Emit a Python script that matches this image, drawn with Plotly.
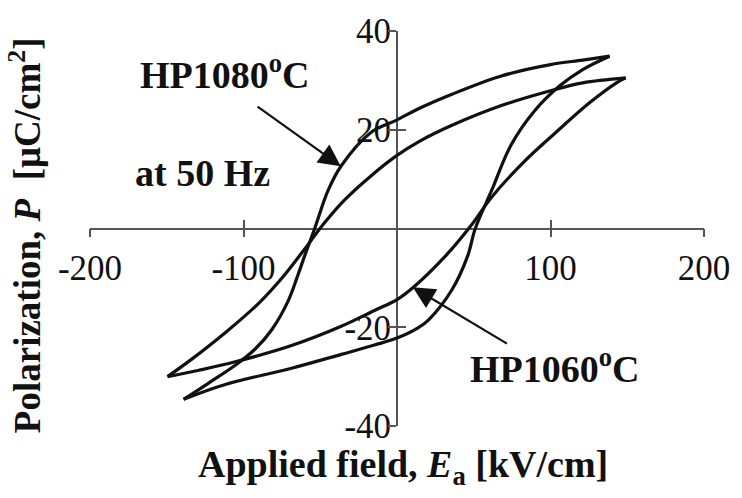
import plotly.graph_objects as go

# ---- data (E in kV/cm, P in uC/cm2) ----
# HP1080 C loop: branch from +Emax to -Emax (upper) and back (lower)
hp1080_upper_E = [138.5, 121, 100, 68, 35.8, 14.3, 0, -16.8, -36.3, -44.9, -53.6, -60, -64.4, -70.8, -81.6, -92.4, -105.4, -122.7, -139]
hp1080_upper_P = [34.9, 34.1, 33.2, 30.9, 27.2, 24.3, 22.0, 19.5, 12.7, 7.7, 0.0, -5.4, -9.3, -14.6, -20.5, -24.4, -27.7, -31.3, -34.6]
hp1080_lower_E = [-139, -111.9, -68.7, -36.3, -14.7, 0, 13.4, 20.6, 36, 46, 51, 61.5, 74.3, 89, 106, 121, 138.5]
hp1080_lower_P = [-34.6, -31.6, -28.3, -25.5, -23.6, -22.2, -20.2, -18.5, -12.3, -5.6, 0.0, 7.6, 16.9, 23.6, 28.9, 32.2, 34.9]

# HP1060 C loop
hp1060_upper_E = [149, 121, 100, 68, 35.8, 14.3, 0, -16.8, -34.1, -47.1, -60, -73, -90.3, -111.9, -133.5, -149.5]
hp1060_upper_P = [30.5, 29.5, 27.9, 24.9, 20.9, 17.6, 14.8, 10.7, 5.8, 1.2, -4.1, -9.3, -15.2, -21.1, -26.4, -30.0]
hp1060_lower_E = [-149.5, -129, -105.4, -68.7, -36.3, -14.7, 0, 10.7, 31.5, 48, 61.5, 83, 104, 126, 143, 149]
hp1060_lower_P = [-30.0, -28.7, -27.0, -23.7, -19.8, -16.6, -14.4, -11.9, -5.6, 0.5, 6.3, 13.6, 19.6, 25.6, 29.5, 30.5]

x_ticks = [-200, -100, 0, 100, 200]
x_tick_labels = ["-200", "-100", "", "100", "200"]
y_ticks = [-40, -20, 0, 20, 40]
y_tick_labels = ["-40", "-20", "", "20", "40"]

FONT = "Liberation Serif, Times New Roman, Tinos, DejaVu Serif, serif"
LINE = "#111111"
AXIS = "#555555"
TXT = "#111111"

fig = go.Figure()
for xs, ys in [(hp1080_upper_E, hp1080_upper_P), (hp1080_lower_E, hp1080_lower_P),
               (hp1060_upper_E, hp1060_upper_P), (hp1060_lower_E, hp1060_lower_P)]:
    fig.add_trace(go.Scatter(x=xs, y=ys, mode="lines",
                             line=dict(color=LINE, width=3.2, shape="spline", smoothing=1.0),
                             showlegend=False, hoverinfo="skip"))

def ax_common(rng, vals):
    return dict(range=rng, showgrid=False, zeroline=False, showline=True,
                linecolor=AXIS, linewidth=1.8, tickcolor=AXIS, tickwidth=1.8, ticklen=8,
                anchor="free", position=0.5, layer="below traces",
                tickmode="array", tickvals=vals)

fig.update_layout(
    width=742, height=498,
    margin=dict(l=90, r=29, t=24, b=72),
    paper_bgcolor="white", plot_bgcolor="white",
    font=dict(family=FONT, color=TXT),
    xaxis=dict(**ax_common([-200, 200], x_ticks), ticks="outside", ticktext=x_tick_labels,
               tickfont=dict(family=FONT, size=35, color=TXT), ticklabelstandoff=1),
    xaxis2=dict(**ax_common([-200, 200], x_ticks), ticks="inside", overlaying="x",
                showticklabels=False),
    yaxis=dict(**ax_common([-40, 40], y_ticks), ticks="", ticktext=y_tick_labels, side="left",
               tickfont=dict(family=FONT, size=35, color=TXT), ticklabelstandoff=-2),
    yaxis2=dict(**ax_common([-40, 40], y_ticks), ticks="inside", overlaying="y", side="left",
                showticklabels=False),
    yaxis3=dict(**ax_common([-40, 40], y_ticks), ticks="outside", overlaying="y", side="left",
                showticklabels=False),
)
# empty traces to activate the overlay axes that carry the tick marks
fig.add_trace(go.Scatter(x=[None], y=[None], xaxis="x2", yaxis="y2", showlegend=False))
fig.add_trace(go.Scatter(x=[None], y=[None], xaxis="x2", yaxis="y3", showlegend=False))

annos = [
    dict(x=0.51, y=-0.104, xref="paper", yref="paper", showarrow=False,
         xanchor="center", yanchor="middle",
         text="<b>Applied field, <i>E</i><sub>a</sub> [kV/cm]</b>", font=dict(size=38)),
    dict(x=-0.106, y=0.483, xref="paper", yref="paper", showarrow=False, textangle=-90,
         xanchor="center", yanchor="middle",
         text="<b>Polarization, <i>P</i>  [μC/cm<sup>2</sup>]</b>", font=dict(size=37)),
    dict(x=-111.8, y=31.6, xref="x", yref="y", showarrow=False,
         text="<b>HP1080<sup>o</sup>C</b>", font=dict(size=38)),
    dict(x=-126.5, y=11.2, xref="x", yref="y", showarrow=False,
         text="<b>at 50 Hz</b>", font=dict(size=38)),
    dict(x=103, y=-27.9, xref="x", yref="y", showarrow=False,
         text="<b>HP1060<sup>o</sup>C</b>", font=dict(size=38)),
    dict(x=-36.6, y=12.6, ax=-91.8, ay=24.9, xref="x", yref="y", axref="x", ayref="y",
         text="", showarrow=True, arrowhead=2, arrowsize=2.0, arrowwidth=2.2, arrowcolor=LINE),
    dict(x=10.3, y=-11.9, ax=72.6, ay=-23.5, xref="x", yref="y", axref="x", ayref="y",
         text="", showarrow=True, arrowhead=2, arrowsize=2.0, arrowwidth=2.2, arrowcolor=LINE),
]
fig.update_layout(annotations=annos)
fig.write_html("out.html")
